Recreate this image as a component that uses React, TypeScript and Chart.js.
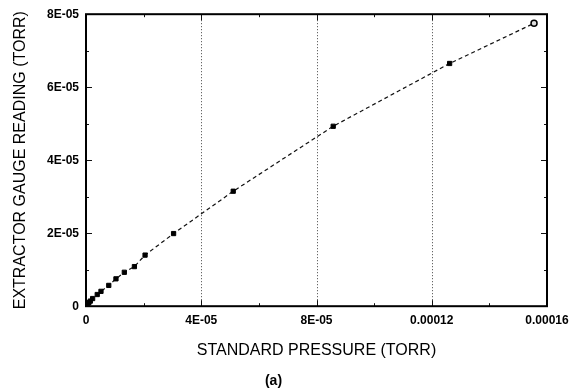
import React, { useEffect, useRef } from "react";
import { Chart, registerables } from "chart.js";

Chart.register(...registerables);

const standardPressure = [0.2e-6, 0.6e-6, 1.0e-6, 1.5e-6, 2.3e-6, 3.9e-6, 5.2e-6, 7.9e-6, 10.4e-6, 13.3e-6, 16.8e-6, 20.5e-6, 30.4e-6, 51.1e-6, 85.8e-6, 126.2e-6, 155.5e-6];
const gaugeReading = [0.2e-6, 0.6e-6, 1.0e-6, 1.4e-6, 2.1e-6, 3.2e-6, 4.07e-6, 5.7e-6, 7.5e-6, 9.3e-6, 10.85e-6, 14.0e-6, 19.9e-6, 31.5e-6, 49.3e-6, 66.5e-6, 77.5e-6];

const xTickValues = [0, 4e-5, 8e-5, 12e-5, 16e-5];
const xTickLabels = ["0", "4E-05", "8E-05", "0.00012", "0.00016"];
const yTickValues = [0, 2e-5, 4e-5, 6e-5, 8e-5];
const yTickLabels = ["0", "2E-05", "4E-05", "6E-05", "8E-05"];

const xTitle = "STANDARD PRESSURE (TORR)";
const yTitle = "EXTRACTOR GAUGE READING (TORR)";
const caption = "(a)";

const FONT = "'Liberation Sans', Arial, Helvetica, sans-serif";

const framePlugin = {
  id: "frame",
  beforeDatasetsDraw(chart: any) {
    const { ctx, chartArea } = chart;
    const { left, right, top, bottom } = chartArea;
    const xs = chart.scales.x;
    const ys = chart.scales.y;
    ctx.save();
    ctx.strokeStyle = "#444";
    ctx.lineWidth = 1;
    ctx.setLineDash([1, 2]);
    xTickValues.slice(1, -1).forEach((v) => {
      const px = Math.round(xs.getPixelForValue(v)) + 0.5;
      ctx.beginPath();
      ctx.moveTo(px, top);
      ctx.lineTo(px, bottom);
      ctx.stroke();
    });
    ctx.setLineDash([]);
    ctx.strokeStyle = "#111";
    ctx.lineWidth = 1;
    const drawY = (v: number, len: number) => {
      const py = Math.round(ys.getPixelForValue(v)) + 0.5;
      ctx.beginPath();
      ctx.moveTo(left, py);
      ctx.lineTo(left + len, py);
      ctx.moveTo(right, py);
      ctx.lineTo(right - len, py);
      ctx.stroke();
    };
    const drawX = (v: number, len: number) => {
      const px = Math.round(xs.getPixelForValue(v)) + 0.5;
      ctx.beginPath();
      ctx.moveTo(px, bottom);
      ctx.lineTo(px, bottom - len);
      ctx.moveTo(px, top);
      ctx.lineTo(px, top + len);
      ctx.stroke();
    };
    yTickValues.forEach((v, i) => {
      drawY(v, 6);
      if (i < yTickValues.length - 1) drawY((v + yTickValues[i + 1]) / 2, 3);
    });
    xTickValues.forEach((v, i) => {
      drawX(v, 6);
      if (i < xTickValues.length - 1) drawX((v + xTickValues[i + 1]) / 2, 3);
    });
    ctx.strokeStyle = "#000";
    ctx.lineWidth = 2;
    ctx.strokeRect(left, top, right - left, bottom - top);
    ctx.restore();
  },
};

export default function App() {
  const ref = useRef<HTMLCanvasElement | null>(null);

  useEffect(() => {
    if (!ref.current) return;
    const data = standardPressure.map((x, i) => ({ x, y: gaugeReading[i] }));
    const last = data.length - 1;
    const pointStyles = data.map((_, i) => (i === last ? "circle" : "rect"));
    const pointFill = data.map((_, i) => (i === last ? "#ddd" : "#000"));
    const pointRadius = data.map((_, i) => (i === last ? 3 : 3));
    const pointBorderWidth = data.map((_, i) => (i === last ? 1.5 : 1));
    const chart = new Chart(ref.current, {
      type: "scatter",
      data: {
        datasets: [
          {
            data,
            showLine: true,
            borderColor: "#111",
            borderWidth: 1.2,
            borderDash: [4, 3],
            pointStyle: pointStyles as any,
            pointRadius: pointRadius as any,
            pointBackgroundColor: pointFill as any,
            pointBorderColor: "#000",
            pointBorderWidth: pointBorderWidth as any,
          },
        ],
      },
      options: {
        animation: false,
        responsive: false,
        layout: { padding: { left: 0, top: 11, right: 35, bottom: 0 } },
        plugins: {
          legend: { display: false },
          tooltip: { enabled: false },
          title: {
            display: true,
            position: "bottom",
            text: caption,
            color: "#000",
            font: { family: FONT, size: 14, weight: "bold" },
            padding: { top: 0, bottom: 2 },
          },
        },
        scales: {
          x: {
            type: "linear",
            min: 0,
            max: 16e-5,
            afterBuildTicks: (scale: any) => {
              scale.ticks = xTickValues.map((v) => ({ value: v }));
            },
            afterFit: (scale: any) => {
              scale.height = 67;
            },
            grid: { display: false, drawTicks: false },
            border: { display: false },
            ticks: {
              padding: 7,
              maxRotation: 0,
              autoSkip: false,
              color: "#000",
              font: { family: FONT, size: 12, weight: "bold" },
              callback: (_v: any, i: number) => xTickLabels[i],
            },
            title: {
              display: true,
              text: xTitle,
              color: "#000",
              font: { family: FONT, size: 16 },
              padding: { top: 0, bottom: 13 },
            },
          },
          y: {
            type: "linear",
            min: 0,
            max: 8e-5,
            afterBuildTicks: (scale: any) => {
              scale.ticks = yTickValues.map((v) => ({ value: v }));
            },
            afterFit: (scale: any) => {
              scale.width = 86;
            },
            grid: { display: false, drawTicks: false },
            border: { display: false },
            ticks: {
              padding: 7,
              autoSkip: false,
              color: "#000",
              font: { family: FONT, size: 12, weight: "bold" },
              callback: (_v: any, i: number) => yTickLabels[i],
            },
            title: {
              display: true,
              text: yTitle,
              color: "#000",
              font: { family: FONT, size: 16 },
              padding: { top: 11, bottom: 0 },
            },
          },
        },
      },
      plugins: [framePlugin],
    });
    return () => chart.destroy();
  }, []);

  return (
    <div style={{ position: "fixed", left: 0, top: 0, width: 582, height: 392, background: "#fff" }}>
      <canvas ref={ref} width={582} height={392} style={{ display: "block" }} />
    </div>
  );
}
